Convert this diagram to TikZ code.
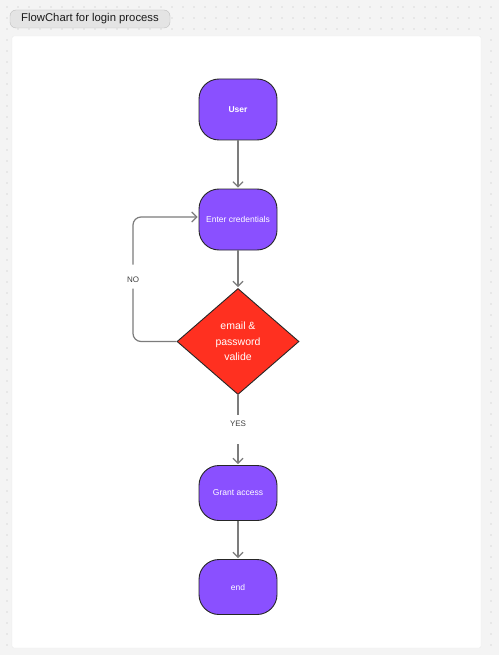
\documentclass[tikz,border=0pt]{standalone}
\usepackage{fontspec}
\setmainfont{Liberation Sans}
\usetikzlibrary{shapes.geometric,arrows.meta}
\definecolor{boardgray}{HTML}{F4F4F4}
\definecolor{dotgray}{HTML}{BDBDBD}
\definecolor{stepviolet}{HTML}{8A50FF}
\definecolor{checkred}{HTML}{FF3020}
\definecolor{linegray}{HTML}{7C7C7C}
\definecolor{badgegray}{HTML}{E4E4E4}

\begin{document}
\begin{tikzpicture}[x=1pt,y=-1pt]
      \tikzstyle{stepbox}=[rectangle,rounded corners=20pt,draw=black!85,line width=0.9pt,
                           fill=stepviolet,text=white,minimum width=78pt,minimum height=61pt,
                           inner sep=0pt,font=\fontsize{8.5}{10}\selectfont]
      \tikzstyle{checkbox}=[diamond,draw=black!85,line width=0.9pt,fill=checkred,text=white,
                            minimum width=122pt,minimum height=106pt,inner sep=0pt,
                            align=center,font=\fontsize{10.5}{15.5}\selectfont]
      \tikzstyle{flow}=[draw=linegray,line width=1.2pt]
      \tikzstyle{flow arrow}=[flow,-{Straight Barb[length=5pt,width=10pt]},shorten >=1pt]
      \tikzstyle{answer}=[text=black!75,inner sep=0pt,font=\fontsize{8}{10}\selectfont]

      % Draw the dotted board and the white sheet
      \useasboundingbox[fill=boardgray] (0,0) rectangle (499,655);
      \foreach \i in {0,...,44}
          \foreach \j in {0,...,59}
              \fill[dotgray] (7+11*\i,7+11*\j) circle (0.55pt);
      \fill[white,draw=black!8,rounded corners=2pt] (12,36) rectangle (481,648);

      % Title badge
      \node[rectangle,rounded corners=6pt,fill=badgegray,draw=black!25,minimum width=160pt,
            minimum height=18pt,text=black!90,font=\fontsize{11.3}{13}\selectfont] (title) at (90,19)
            {FlowChart for login process};

      % Draw the steps of the login process
      \node[stepbox,font=\fontsize{8.5}{10}\selectfont\bfseries] (user) at (238,109.5) {User};
      \node[stepbox] (cred) at (238,219.5) {Enter credentials};
      \node[checkbox] (valid) at (238,341.5) {email \&\\password\\valide};
      \node[stepbox,minimum height=55pt] (grant) at (238,493) {Grant access};
      \node[stepbox,minimum height=55pt] (end) at (238,587) {end};

      % Answers of the check
      \node[answer] (no) at (133,279.5) {NO};
      \node[answer] (yes) at (238,424) {YES};

      % Connect the steps
      \path[flow arrow] (user) edge (cred);
      \path[flow arrow] (cred) edge (valid);
      \draw[flow] (valid.south) -- ([yshift=9pt]yes.center);
      \draw[flow arrow] ([yshift=-20pt]yes.center) -- (grant.north);
      \path[flow arrow] (grant) edge (end);

      % Loop back when the check fails
      \draw[flow,rounded corners=8pt] (valid.west) -| ([yshift=-9pt]no.center);
      \draw[flow arrow,rounded corners=8pt] ([yshift=15pt]no.center) |- ([yshift=2.5pt]cred.west);
  \end{tikzpicture}
\end{document}
